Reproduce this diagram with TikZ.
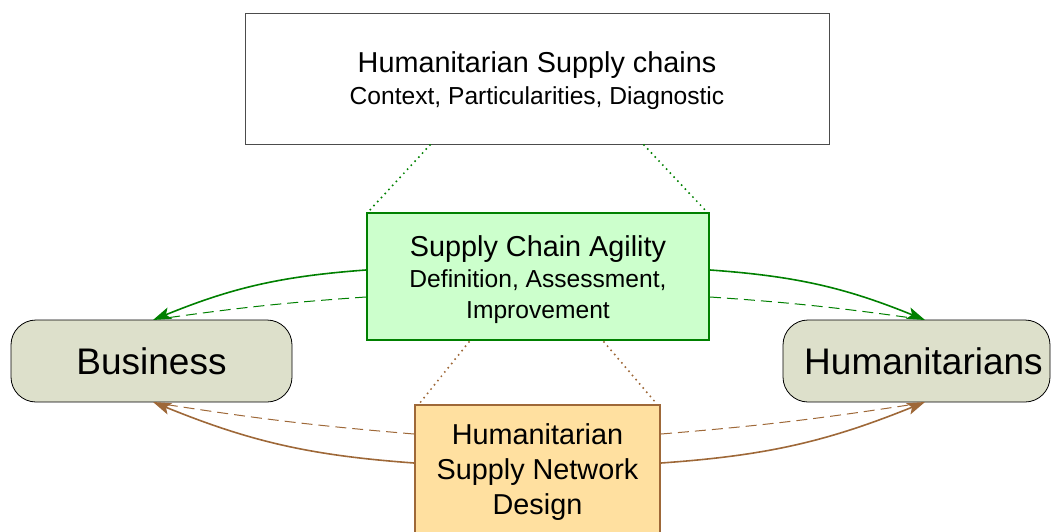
\documentclass[tikz,border=0pt]{standalone}
\usepackage{fontspec}
\setmainfont{Liberation Sans}
\usetikzlibrary{arrows.meta}
\definecolor{gline}{RGB}{0,128,0}
\definecolor{gfill}{RGB}{204,255,204}
\definecolor{bline}{RGB}{158,104,56}
\definecolor{bfill}{RGB}{255,224,160}
\definecolor{afill}{RGB}{221,224,203}
\newcommand{\hugef}{\fontsize{37}{40}\selectfont}
\tikzset{
  topbox/.style={draw=black!70, line width=0.9pt, fill=white, minimum width=584pt, minimum height=131pt, inner sep=0pt},
  agilebox/.style={draw=gline, line width=2pt, fill=gfill, minimum width=342pt, minimum height=127pt, inner sep=0pt},
  netbox/.style={draw=bline, line width=2pt, fill=bfill, minimum width=245pt, minimum height=128pt, inner sep=0pt},
  boxtext/.style={align=center, inner sep=0pt},
  actor/.style={draw=black, line width=0.8pt, fill=afill, rounded corners=25pt, minimum height=82pt, inner sep=0pt, font=\hugef},
  garrow/.style={draw=gline, line width=1.6pt, -{Stealth[length=18pt,width=12pt,inset=4pt]}},
  gdash/.style={draw=gline, line width=1pt, dash pattern=on 11pt off 6pt},
  barrow/.style={draw=bline, line width=1.6pt, -{Stealth[length=18pt,width=12pt,inset=4pt]}},
  bdash/.style={draw=bline, line width=1pt, dash pattern=on 11pt off 6pt},
  gdot/.style={draw=gline, line width=2.2pt, dash pattern=on 0pt off 5.5pt, line cap=round},
  bdot/.style={draw=bline, line width=2.2pt, dash pattern=on 0pt off 5.5pt, line cap=round},
}
\begin{document}
\begin{tikzpicture}[x=1pt,y=-1pt]
\useasboundingbox (0,0) rectangle (1051,532);
% boxes
\node[topbox] (ctx) at (537,78.5) {};
\node[boxtext, font=\fontsize{28.8}{32}\selectfont] (ctxt) at ([yshift=-2.5pt]ctx.center) {Humanitarian Supply chains\\\fontsize{24.6}{32}\selectfont Context, Particularities, Diagnostic};
\node[actor, minimum width=281pt] (bus) at (151.5,361) {Business};
\node[actor, minimum width=267pt] (hum) at (916.5,361) {\hspace{14pt}Humanitarians};
% dotted links
\coordinate (c1) at (430,145);
\coordinate (c2) at (644,145);
\coordinate (g1) at (369,211);
\coordinate (g2) at (706,211);
\coordinate (g3) at (469,342);
\coordinate (g4) at (604,342);
\coordinate (n1) at (419,404);
\coordinate (n2) at (656,403);
\draw[gdot] (c1) -- (g1);
\draw[gdot] (c2) -- (g2);
\draw[bdot] (g3) -- (n1);
\draw[bdot] (g4) -- (n2);
\node[agilebox] (agi) at (538,276.5) {};
\node[boxtext, font=\fontsize{28.8}{31}\selectfont] (agit) at ([yshift=-3pt]agi.center) {Supply Chain Agility\\\fontsize{24.6}{30}\selectfont Definition, Assessment,\\\fontsize{24.6}{30}\selectfont Improvement};
\node[netbox] (net) at (537.5,469) {};
\node[boxtext, font=\fontsize{28.8}{35}\selectfont] (nett) at ([yshift=-3.5pt]net.center) {Humanitarian\\Supply Network\\Design};
% arrow end points
\coordinate (bt) at (153,320);
\coordinate (btd) at (166,318);
\coordinate (bb) at (153,402);
\coordinate (bbd) at (166,404.5);
\coordinate (ht) at (925,320);
\coordinate (htd) at (912,318);
\coordinate (hb) at (925,402);
\coordinate (hbd) at (912,404.5);
% green
\draw[garrow] ([yshift=6.5pt]agi.west) to[bend right=9] (bt);
\draw[gdash] ([yshift=-20.5pt]agi.west) to[bend right=2] (btd);
\draw[garrow] ([yshift=6.5pt]agi.east) to[bend left=9] (ht);
\draw[gdash] ([yshift=-20.5pt]agi.east) to[bend left=2] (htd);
% brown
\draw[barrow] ([yshift=6pt]net.west) to[bend left=9] (bb);
\draw[bdash] ([yshift=35pt]net.west) to[bend left=2] (bbd);
\draw[barrow] ([yshift=6pt]net.east) to[bend right=9] (hb);
\draw[bdash] ([yshift=35pt]net.east) to[bend right=2] (hbd);
\end{tikzpicture}
\end{document}
